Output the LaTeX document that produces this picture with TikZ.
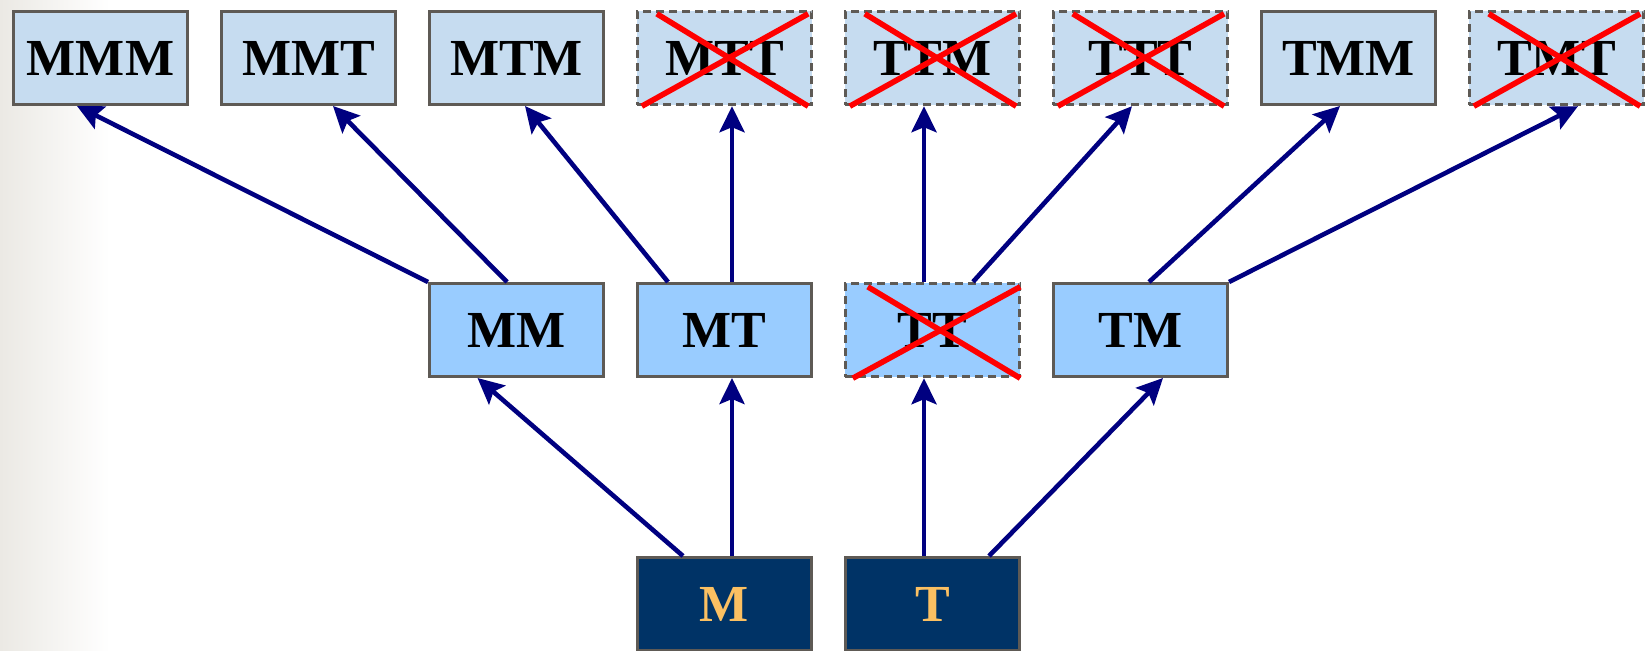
\documentclass[tikz,border=0pt]{standalone}
\usepackage{fontspec}
\setmainfont{Liberation Serif}
\usetikzlibrary{arrows.meta}
\definecolor{topfill}{HTML}{C6DCF0}
\definecolor{midfill}{HTML}{99CCFF}
\definecolor{botfill}{HTML}{003366}
\definecolor{bottext}{HTML}{FBC062}
\definecolor{boxline}{HTML}{5E5A55}
\definecolor{arrowblue}{HTML}{000080}
\definecolor{bgleft}{HTML}{EBE9E4}
\tikzset{
  box/.style={draw=boxline, line width=1.3pt, minimum width=87.2pt, minimum height=46.7pt,
    inner sep=0pt, font=\fontsize{26}{30}\selectfont\bfseries},
  topbox/.style={box, fill=topfill},
  midbox/.style={box, fill=midfill},
  botbox/.style={box, fill=botfill, text=bottext},
  gone/.style={line width=1.5pt, dash pattern=on 4pt off 2.5pt},
  conn/.style={draw=arrowblue, line width=2.3pt, -{Stealth[length=13pt, width=12.5pt, inset=2.5pt]}},
  redx/.style={draw=red, line width=2.8pt},
}
\newcommand{\crossbox}[1]{%
  \draw[redx] ([xshift=10.5pt,yshift=-2pt]#1.north west) -- ([xshift=-2.5pt]#1.south east);
  \draw[redx] ([xshift=3pt]#1.south west) -- ([xshift=-2.5pt,yshift=-2pt]#1.north east);}
\begin{document}
\begin{tikzpicture}[x=0.5pt, y=0.5pt]
\useasboundingbox (0,0) rectangle (1648,650);
\shade[left color=bgleft, right color=white] (0,0) rectangle (110,650);
% top row
\node[topbox] (t1) at (100.5,592) {MMM};
\node[topbox] (t2) at (308.5,592) {MMT};
\node[topbox] (t3) at (516.5,592) {MTM};
\node[topbox, gone] (t4) at (724.5,592) {MTT};
\node[topbox, gone] (t5) at (932.5,592) {TTM};
\node[topbox, gone] (t6) at (1140.5,592) {TTT};
\node[topbox] (t7) at (1348.5,592) {TMM};
\node[topbox, gone] (t8) at (1556.5,592) {TMT};
% middle row
\node[midbox] (mm) at (516.5,320) {MM};
\node[midbox] (mt) at (724.5,320) {MT};
\node[midbox, gone] (tt) at (932.5,320) {TT};
\node[midbox] (tm) at (1140.5,320) {TM};
% bottom row
\node[botbox] (m) at (724.5,46) {M};
\node[botbox] (t) at (932.5,46) {T};
% crosses
\crossbox{t4}
\crossbox{t5}
\crossbox{t6}
\crossbox{t8}
\draw[redx] ([xshift=12pt,yshift=-2.5pt]tt.north west) -- ([xshift=-0.5pt]tt.south east);
\draw[redx] ([xshift=4.5pt]tt.south west) -- ([xshift=-0.5pt,yshift=-2.5pt]tt.north east);
% connectors
\draw[conn] (mm.north west) -- ([xshift=-11.75pt]t1.south);
\draw[conn] ([xshift=-4.75pt]mm.north) -- ([xshift=12.25pt]t2.south);
\draw[conn] ([xshift=-28.25pt]mt.north) -- ([xshift=4.25pt]t3.south);
\draw[conn] ([xshift=3.75pt]mt.north) -- ([xshift=3.75pt]t4.south);
\draw[conn] ([xshift=-4.25pt]tt.north) -- ([xshift=-4.25pt]t5.south);
\draw[conn] ([xshift=20.25pt]tt.north) -- ([xshift=-4.25pt]t6.south);
\draw[conn] ([xshift=4.25pt]tm.north) -- ([xshift=-4.25pt]t7.south);
\draw[conn] (tm.north east) -- ([xshift=10.75pt]t8.south);
\draw[conn] ([xshift=-20.75pt]m.north) -- ([xshift=-19.5pt]mm.south);
\draw[conn] ([xshift=3.75pt]m.north) -- ([xshift=3.75pt]mt.south);
\draw[conn] ([xshift=-4.25pt]t.north) -- ([xshift=-4.25pt]tt.south);
\draw[conn] ([xshift=28.25pt]t.north) -- ([xshift=11.25pt]tm.south);
\end{tikzpicture}
\end{document}
